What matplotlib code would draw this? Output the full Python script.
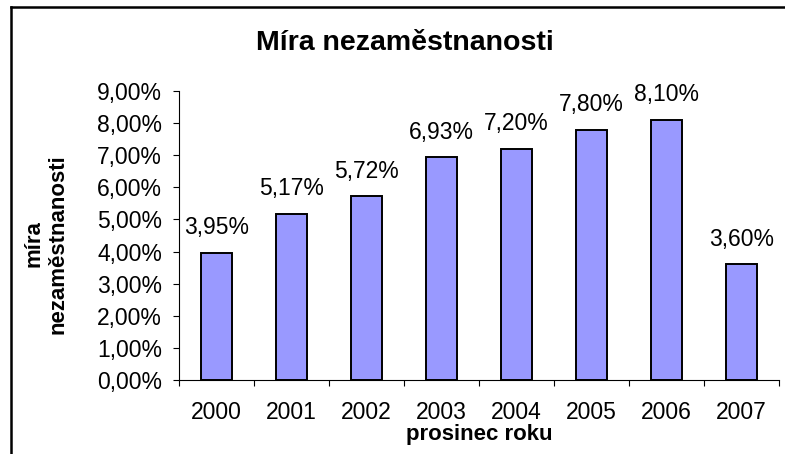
import matplotlib
matplotlib.use("Agg")
import matplotlib.pyplot as plt
from matplotlib.lines import Line2D
import numpy as np

years = ["2000", "2001", "2002", "2003", "2004", "2005", "2006", "2007"]
values = [3.95, 5.17, 5.72, 6.93, 7.20, 7.80, 8.10, 3.60]
ytick_vals = [0, 1, 2, 3, 4, 5, 6, 7, 8, 9]
title = "Míra nezaměstnanosti"
xlabel = "prosinec roku"
ylabel = "míra\nnezaměstnanosti"

def pct(v):
    return f"{v:.2f}".replace(".", ",") + "%"

plt.rcParams['font.family'] = ['Liberation Sans', 'DejaVu Sans']

W, H = 785, 454
fig = plt.figure(figsize=(W / 100, H / 100), dpi=100)
fig.patch.set_facecolor("white")

ax = fig.add_axes([179 / W, 1 - 380 / H, (779 - 179) / W, (380 - 91) / H])
x = np.arange(len(years))
ax.bar(x, values, width=0.42, color="#9999FF", edgecolor="black", linewidth=1.4, zorder=3)

for xi, v in zip(x, values):
    ax.annotate(pct(v), (xi, v), xytext=(0, 13.5), textcoords="offset points",
                ha="center", va="baseline", fontsize=16.5, color="black")

ax.set_xlim(-0.5, len(years) - 0.5)
ax.set_ylim(0, 9)
ax.set_yticks(ytick_vals)
ax.set_yticklabels([pct(v) for v in ytick_vals])
ax.tick_params(axis="y", direction="out", length=4.3, width=0.8, pad=8, labelsize=16.5)

ax.set_xticks(np.arange(-0.5, len(years)), labels=[""] * (len(years) + 1))
ax.set_xticks(x, labels=years, minor=True)
ax.tick_params(axis="x", which="major", direction="out", length=4, width=0.8)
ax.tick_params(axis="x", which="minor", length=0, pad=15, labelsize=16.5)

for s in ["top", "right"]:
    ax.spines[s].set_visible(False)
for s in ["left", "bottom"]:
    ax.spines[s].set_linewidth(0.8)
    ax.spines[s].set_color("black")

fig.text(405 / W, 1 - 50 / H, title, ha="center", va="baseline",
         fontsize=20.5, fontweight="bold")
fig.text(479 / W, 1 - 440 / H, xlabel, ha="center", va="baseline",
         fontsize=16, fontweight="bold")
fig.text(46 / W, 1 - 244 / H, ylabel, ha="center", va="center", rotation=90,
         multialignment="center", fontsize=16, fontweight="bold", linespacing=1.2)

# chart-area border (top and left visible in frame)
fig.add_artist(Line2D([11 / W, 1], [1 - 7 / H, 1 - 7 / H], transform=fig.transFigure,
                      color="black", linewidth=1.8, solid_capstyle="projecting"))
fig.add_artist(Line2D([11 / W, 11 / W], [0, 1 - 7 / H], transform=fig.transFigure,
                      color="black", linewidth=1.8, solid_capstyle="projecting"))

fig.savefig("out.png", dpi=100)
